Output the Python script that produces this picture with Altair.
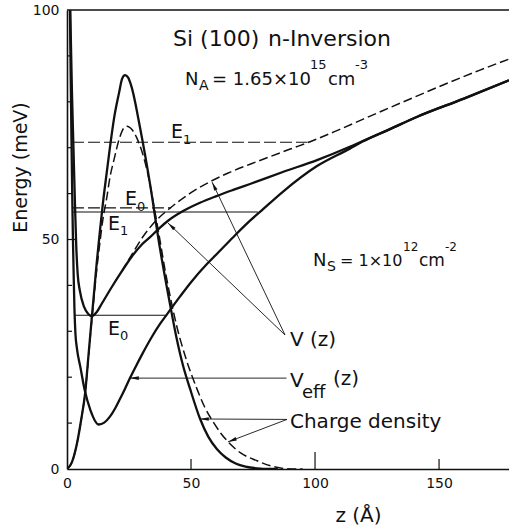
import math
import altair as alt
import pandas as pd

# ---------------- data ----------------
# V_eff(z) (solid, with image + exchange-correlation)
veff_z = [1.2, 1.5, 1.8, 2.1, 2.4, 2.7, 3.0, 3.4, 4.0, 5.36, 7.13, 9.4, 12.8, 15.0, 17.3,
          19.5, 21.4, 23.4, 25.4, 28.0, 30.6, 34.0, 37.5, 40.3, 45.6, 50.0, 56.5, 60.5,
          67.0, 73.8, 77.8, 87.0, 100.8, 114.0, 119.0, 130.0, 141.0, 160.0, 178.2]
veff_E = [100, 85, 72, 60, 50, 42, 35, 29.5, 26.3, 22.3, 17.2, 12.9, 9.7, 10.1, 11.4,
          13.3, 15.3, 17.5, 19.8, 22.6, 25.3, 28.6, 31.6, 33.7, 37.6, 40.7, 44.7, 46.9,
          50.5, 54.1, 56.0, 60.4, 66.0, 69.8, 71.3, 74.0, 76.7, 80.7, 84.7]

# V(z) solid
vsol_z = [1.3, 2.0, 2.6, 3.2, 3.7, 4.3, 5.2, 6.9, 8.5, 10.0, 12.0, 14.0, 18.0, 22.0, 26.0,
          30.0, 33.5, 37.5, 41.0, 46.8, 53.6, 60.0, 67.0, 73.8, 87.0, 100.8, 114.0, 119.0,
          130.0, 141.0, 160.0, 178.2]
vsol_E = [100, 82, 70, 58, 49, 42.5, 38.8, 35.3, 33.8, 33.3, 34.2, 36.0, 39.6, 43.0, 46.2,
          48.8, 50.5, 52.6, 54.2, 56.2, 58.0, 59.4, 60.8, 62.1, 64.7, 67.3, 70.2, 71.4,
          74.0, 76.7, 80.7, 84.7]

# V(z) dashed
vdash_z = [22.0, 26.0, 30.6, 35.0, 41.5, 50.0, 57.7, 65.0, 73.8, 90.0, 98.0, 110.0, 127.0,
           140.0, 154.0, 166.0, 178.2]
vdash_E = [43.0, 46.6, 50.6, 53.6, 56.8, 60.2, 62.6, 64.5, 66.4, 69.7, 71.3, 74.0, 78.0,
           81.0, 84.2, 86.8, 89.3]

# charge density (solid)
ds_z = [0, 2, 4, 5.8, 7.3, 8.7, 10, 11, 12, 13.3, 14.5, 16, 17.3, 19, 21, 22.2, 23.4, 24.6,
        26, 29.4, 33.5, 37.5, 41.5, 44, 46.8, 49.6, 53.6, 57, 60.5, 64, 68, 72, 78, 85]
ds_E = [0, 1.5, 5.5, 11, 16.5, 25, 33, 39, 45, 52, 58, 64.5, 70, 76.5, 82, 85, 85.8, 85.3,
        83.3, 74.5, 62, 48, 36, 29, 22.5, 17.5, 11, 7, 4.3, 2.5, 1.2, 0.5, 0.1, 0]

# charge density (dashed)
dd_z = [0, 2, 4, 5.8, 7.3, 8.7, 10, 11, 12, 13.3, 14.5, 16, 17.3, 19, 21, 22.8, 24.2, 25.6,
        28, 32.3, 36.3, 40, 44.3, 48, 52, 55.5, 59, 62, 65.7, 70, 76.6, 82, 88, 95]
dd_E = [0, 1.5, 5.5, 11, 16.5, 24.5, 32.5, 38, 43.5, 49.5, 54.5, 59, 63.5, 67.5, 71.8, 74.2,
        74.7, 74.3, 72.3, 65, 53.5, 42, 31, 24, 18, 13.5, 10.2, 7.8, 5.5, 3.5, 1.8, 0.7, 0.1, 0]

# subband levels: (energy, z start, z end)
lvl_solid_E = [56.0, 33.5]
lvl_solid_z0 = [2.0, 3.2]
lvl_solid_z1 = [77.0, 40.3]
lvl_dash_E = [71.2, 56.9]
lvl_dash_z0 = [2.0, 2.0]
lvl_dash_z1 = [97.0, 42.0]

# pointer lines: start (label) -> tip (curve)
arr_z0 = [87.9, 87.9, 88.5, 88.7, 88.7]
arr_E0 = [29.2, 29.2, 19.8, 10.8, 10.8]
arr_z1 = [58.5, 40.7, 25.4, 53.6, 64.9]
arr_E1 = [62.5, 53.6, 19.8, 10.9, 5.9]

# texts
txt = ["Si (100)", "n-Inversion",
       "N", "A", "= 1.65×10", "15", "cm", "-3",
       "N", "S", "= 1×10", "12", "cm", "-2",
       "V (z)", "V", "eff", "(z)", "Charge density",
       "E", "1", "E", "0", "E", "1", "E", "0"]
txt_z = [42.74, 81.04,
         47.57, 53.22, 58.46, 98.0, 105.2, 116.1,
         99.18, 104.8, 110.07, 135.5, 141.9, 152.4,
         89.9, 89.9, 94.75, 107.24, 89.9,
         41.93, 46.8, 23.38, 28.2, 16.53, 21.4, 16.53, 21.4]
txt_E = [92.16, 92.16,
         83.66, 82.57, 83.66, 87.15, 83.66, 87.15,
         44.23, 43.14, 44.23, 47.5, 44.23, 47.5,
         26.8, 17.86, 15.47, 18.3, 8.93,
         72.11, 70.9, 57.52, 56.3, 52.07, 50.9, 29.19, 28.0]
txt_fs = [22, 22,
          18, 14, 18, 13, 18, 13,
          18, 14, 16, 12, 17, 12,
          20, 20, 18, 20, 20,
          19, 13, 19, 13, 19, 13, 19, 13]

x_labels = [0, 50, 100, 150]
y_labels = [0, 50, 100]
y_minor = [10, 20, 30, 40, 60, 70, 80, 90]

# ---------------- chart ----------------
Z_MAX = 178.2
W, H = 442, 459
PX_Z = W / Z_MAX
PX_E = H / 100.0
FONT = "DejaVu Sans"
INK = "#111111"

xs = alt.Scale(domain=[0, Z_MAX], nice=False, zero=False)
ys = alt.Scale(domain=[0, 100], nice=False, zero=False)
xaxis = alt.Axis(values=x_labels, ticks=False, grid=False, labelFlush=False,
                 labelFont=FONT, labelFontSize=14, labelPadding=7, labelColor=INK,
                 title="z  (Å)", titleFont=FONT, titleFontSize=20, titleFontWeight="normal",
                 titleColor=INK, titleX=291, titleY=52, titleAlign="center",
                 titleBaseline="alphabetic", domainColor=INK, domainWidth=1.6)
yaxis = alt.Axis(values=y_labels, ticks=False, grid=False,
                 labelFont=FONT, labelFontSize=14, labelPadding=8, labelColor=INK,
                 title="Energy (meV)", titleFont=FONT, titleFontSize=19,
                 titleFontWeight="normal", titleColor=INK, titleX=-41, titleY=157,
                 titleAngle=270, titleAlign="center", titleBaseline="alphabetic",
                 domainColor=INK, domainWidth=1.6)
X = alt.X("z:Q", scale=xs, axis=xaxis)
Y = alt.Y("E:Q", scale=ys, axis=yaxis)


def curve(z, E, name):
    return pd.DataFrame({"z": z, "E": E, "curve": name})


solid_df = pd.concat([curve(veff_z, veff_E, "veff"), curve(vsol_z, vsol_E, "v"),
                      curve(ds_z, ds_E, "rho")])
dash_df = pd.concat([curve(vdash_z, vdash_E, "v"), curve(dd_z, dd_E, "rho")])

solid = alt.Chart(solid_df).mark_line(color=INK, strokeWidth=2.3, interpolate="monotone",
                                      clip=True).encode(x=X, y=Y, detail="curve:N")
dashed = alt.Chart(dash_df).mark_line(color=INK, strokeWidth=1.5, interpolate="monotone",
                                      strokeDash=[9, 4], clip=True).encode(
    x=X, y=Y, detail="curve:N")

lvl_s = alt.Chart(pd.DataFrame({"E": lvl_solid_E, "z": lvl_solid_z0, "z1": lvl_solid_z1})
                  ).mark_rule(color=INK, strokeWidth=1.1).encode(x=X, x2="z1:Q", y=Y)
lvl_d = alt.Chart(pd.DataFrame({"E": lvl_dash_E, "z": lvl_dash_z0, "z1": lvl_dash_z1})
                  ).mark_rule(color=INK, strokeWidth=1.1, strokeDash=[12, 4]).encode(
    x=X, x2="z1:Q", y=Y)

top_line = alt.Chart(pd.DataFrame({"E": [100]})).mark_rule(
    color=INK, strokeWidth=1.6).encode(y=Y)

yt = alt.Chart(pd.DataFrame({"E": y_minor})).mark_rule(color=INK, strokeWidth=1.2).encode(
    y=Y, x=alt.value(0), x2=alt.value(5))
yt50 = alt.Chart(pd.DataFrame({"E": [50]})).mark_rule(color=INK, strokeWidth=1.2).encode(
    y=Y, x=alt.value(0), x2=alt.value(10))
xt = alt.Chart(pd.DataFrame({"z": [50, 150]})).mark_rule(color=INK, strokeWidth=1.2).encode(
    x=X, y=alt.value(H), y2=alt.value(H - 10))
xt100 = alt.Chart(pd.DataFrame({"z": [100]})).mark_rule(color=INK, strokeWidth=1.2).encode(
    x=X, y=alt.value(H), y2=alt.value(H - 17))

arr_df = pd.DataFrame({"z": arr_z0, "E": arr_E0, "z1": arr_z1, "E1": arr_E1})
arr_df["ang"] = [
    math.degrees(math.atan2((b - a) * PX_Z, (d - c) * PX_E)) % 360
    for a, b, c, d in zip(arr_z0, arr_z1, arr_E0, arr_E1)
]
arr_lines = alt.Chart(arr_df).mark_rule(color=INK, strokeWidth=0.9).encode(
    x=X, y=Y, x2="z1:Q", y2="E1:Q")
arr_heads = alt.Chart(arr_df).mark_point(
    shape="M0,0L0.45,2.2L-0.45,2.2Z", filled=True, color=INK, opacity=1, size=64,
    strokeWidth=0).encode(
    x=alt.X("z1:Q", scale=xs, axis=xaxis), y=alt.Y("E1:Q", scale=ys, axis=yaxis),
    angle=alt.Angle("ang:Q", scale=None))

text_df = pd.DataFrame({"z": txt_z, "E": txt_E, "t": txt, "fs": txt_fs})
texts = alt.Chart(text_df).mark_text(font=FONT, align="left", baseline="alphabetic",
                                     color=INK).encode(
    x=X, y=Y, text="t:N", size=alt.Size("fs:Q", scale=None, legend=None))

chart = alt.layer(top_line, yt, yt50, xt, xt100, lvl_s, lvl_d, dashed, solid,
                  arr_lines, arr_heads, texts).properties(
    width=W, height=H,
    padding={"left": 67, "top": 10, "right": 0, "bottom": 58},
    autosize=alt.AutoSizeParams(type="none"),
    background="white",
).configure_view(stroke=None)

chart.save("out.html", embed_options={"renderer": "svg", "actions": False})
